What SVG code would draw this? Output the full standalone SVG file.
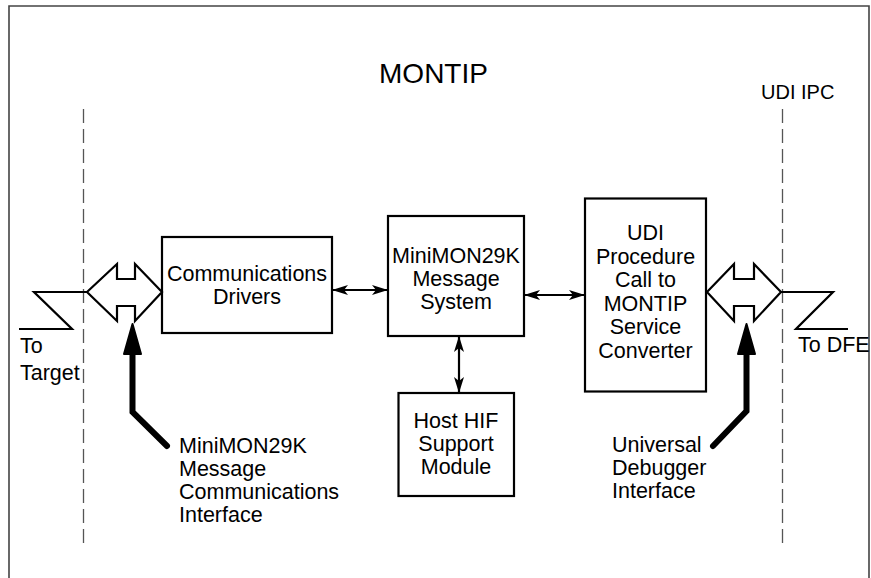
<svg xmlns="http://www.w3.org/2000/svg" width="871" height="578" viewBox="0 0 871 578">
<style>
text{font-family:"Liberation Sans",Arial,sans-serif;font-size:21.5px;fill:#000}
.c{text-anchor:middle}
.box{fill:#fff;stroke:#000;stroke-width:2.2}
.dash{stroke:#555;stroke-width:1.3;stroke-dasharray:14 6;fill:none}
.conn{stroke:#000;stroke-width:2.2;fill:none}
.iface{fill:#fff;stroke:#000;stroke-width:2.2;stroke-linejoin:miter}
.thick{stroke:#000;stroke-width:6;fill:none;stroke-linecap:round;stroke-linejoin:miter}
</style>
<defs>
<marker id="ah" viewBox="0 0 16 10" refX="16" refY="5" markerWidth="16" markerHeight="10" markerUnits="userSpaceOnUse" orient="auto-start-reverse">
<path d="M0,0 L16,5 L0,10 L4,5 Z" fill="#000"/>
</marker>
</defs>
<path d="M9,578 V6 H869 V578" fill="none" stroke="#444" stroke-width="1.6"/>
<text x="433.5" y="83" class="c" style="font-size:28px">MONTIP</text>
<text x="761" y="99" style="font-size:20px">UDI IPC</text>
<g id="boundaries">
<line class="dash" x1="83.5" y1="109" x2="83.5" y2="543"/>
<line class="dash" x1="782.5" y1="109" x2="782.5" y2="543"/>
</g>
<g id="comm-drivers">
<rect class="box" x="162" y="237" width="170" height="96"/>
<text x="247" y="281" class="c">Communications</text>
<text x="247" y="304" class="c">Drivers</text>
</g>
<g id="msg-system">
<rect class="box" x="388" y="216" width="136" height="120"/>
<text x="456" y="263" class="c">MiniMON29K</text>
<text x="456" y="286" class="c">Message</text>
<text x="456" y="309" class="c">System</text>
</g>
<g id="host-hif">
<rect class="box" x="398.5" y="393" width="115.5" height="103"/>
<text x="456" y="427.5" class="c">Host HIF</text>
<text x="456" y="450.5" class="c">Support</text>
<text x="456" y="474" class="c">Module</text>
</g>
<g id="udi-converter">
<rect class="box" x="585" y="198.5" width="121" height="193"/>
<text x="645.5" y="240" class="c">UDI</text>
<text x="645.5" y="263.5" class="c">Procedure</text>
<text x="645.5" y="287" class="c">Call to</text>
<text x="645.5" y="310.5" class="c">MONTIP</text>
<text x="645.5" y="334" class="c">Service</text>
<text x="645.5" y="358" class="c">Converter</text>
</g>
<g id="iface-left">
<path class="iface" d="M87,292 L117,264 L117,279 L135,279 L135,264 L162,292 L135,321 L135,306 L117,306 L117,321 Z"/>
</g>
<g id="iface-right">
<path class="iface" d="M707,292 L734,264 L734,279 L754,279 L754,264 L781,292 L754,321 L754,306 L734,306 L734,321 Z"/>
</g>
<g id="to-target">
<polyline class="conn" points="87,292 34,292 72,329 19,329"/>
<text x="20" y="353">To</text>
<text x="20" y="380">Target</text>
</g>
<g id="to-dfe">
<polyline class="conn" points="781,292 833,292 796,329 848,329"/>
<text x="798" y="352">To DFE</text>
</g>
<g id="mcl">
<text x="179" y="453">MiniMON29K</text>
<text x="179" y="476">Message</text>
<text x="179" y="499">Communications</text>
<text x="179" y="522">Interface</text>
</g>
<g id="udi-label">
<text x="612" y="452">Universal</text>
<text x="612" y="475">Debugger</text>
<text x="612" y="498">Interface</text>
</g>
<g id="connectors">
<line class="conn" x1="332" y1="290" x2="388" y2="290" marker-start="url(#ah)" marker-end="url(#ah)"/>
<line class="conn" x1="524" y1="295" x2="585" y2="295" marker-start="url(#ah)" marker-end="url(#ah)"/>
<line class="conn" x1="459" y1="336" x2="459" y2="393" marker-start="url(#ah)" marker-end="url(#ah)"/>
<polyline class="thick" points="167,446 132.5,412 132.5,350"/>
<path d="M132.5,324 L141,354 L124,354 Z" fill="#000" stroke="#000" stroke-width="2" stroke-linejoin="round"/>
<polyline class="thick" points="713,446 746.5,411 746.5,350"/>
<path d="M746.5,324 L755,354 L738,354 Z" fill="#000" stroke="#000" stroke-width="2" stroke-linejoin="round"/>
</g>
</svg>
